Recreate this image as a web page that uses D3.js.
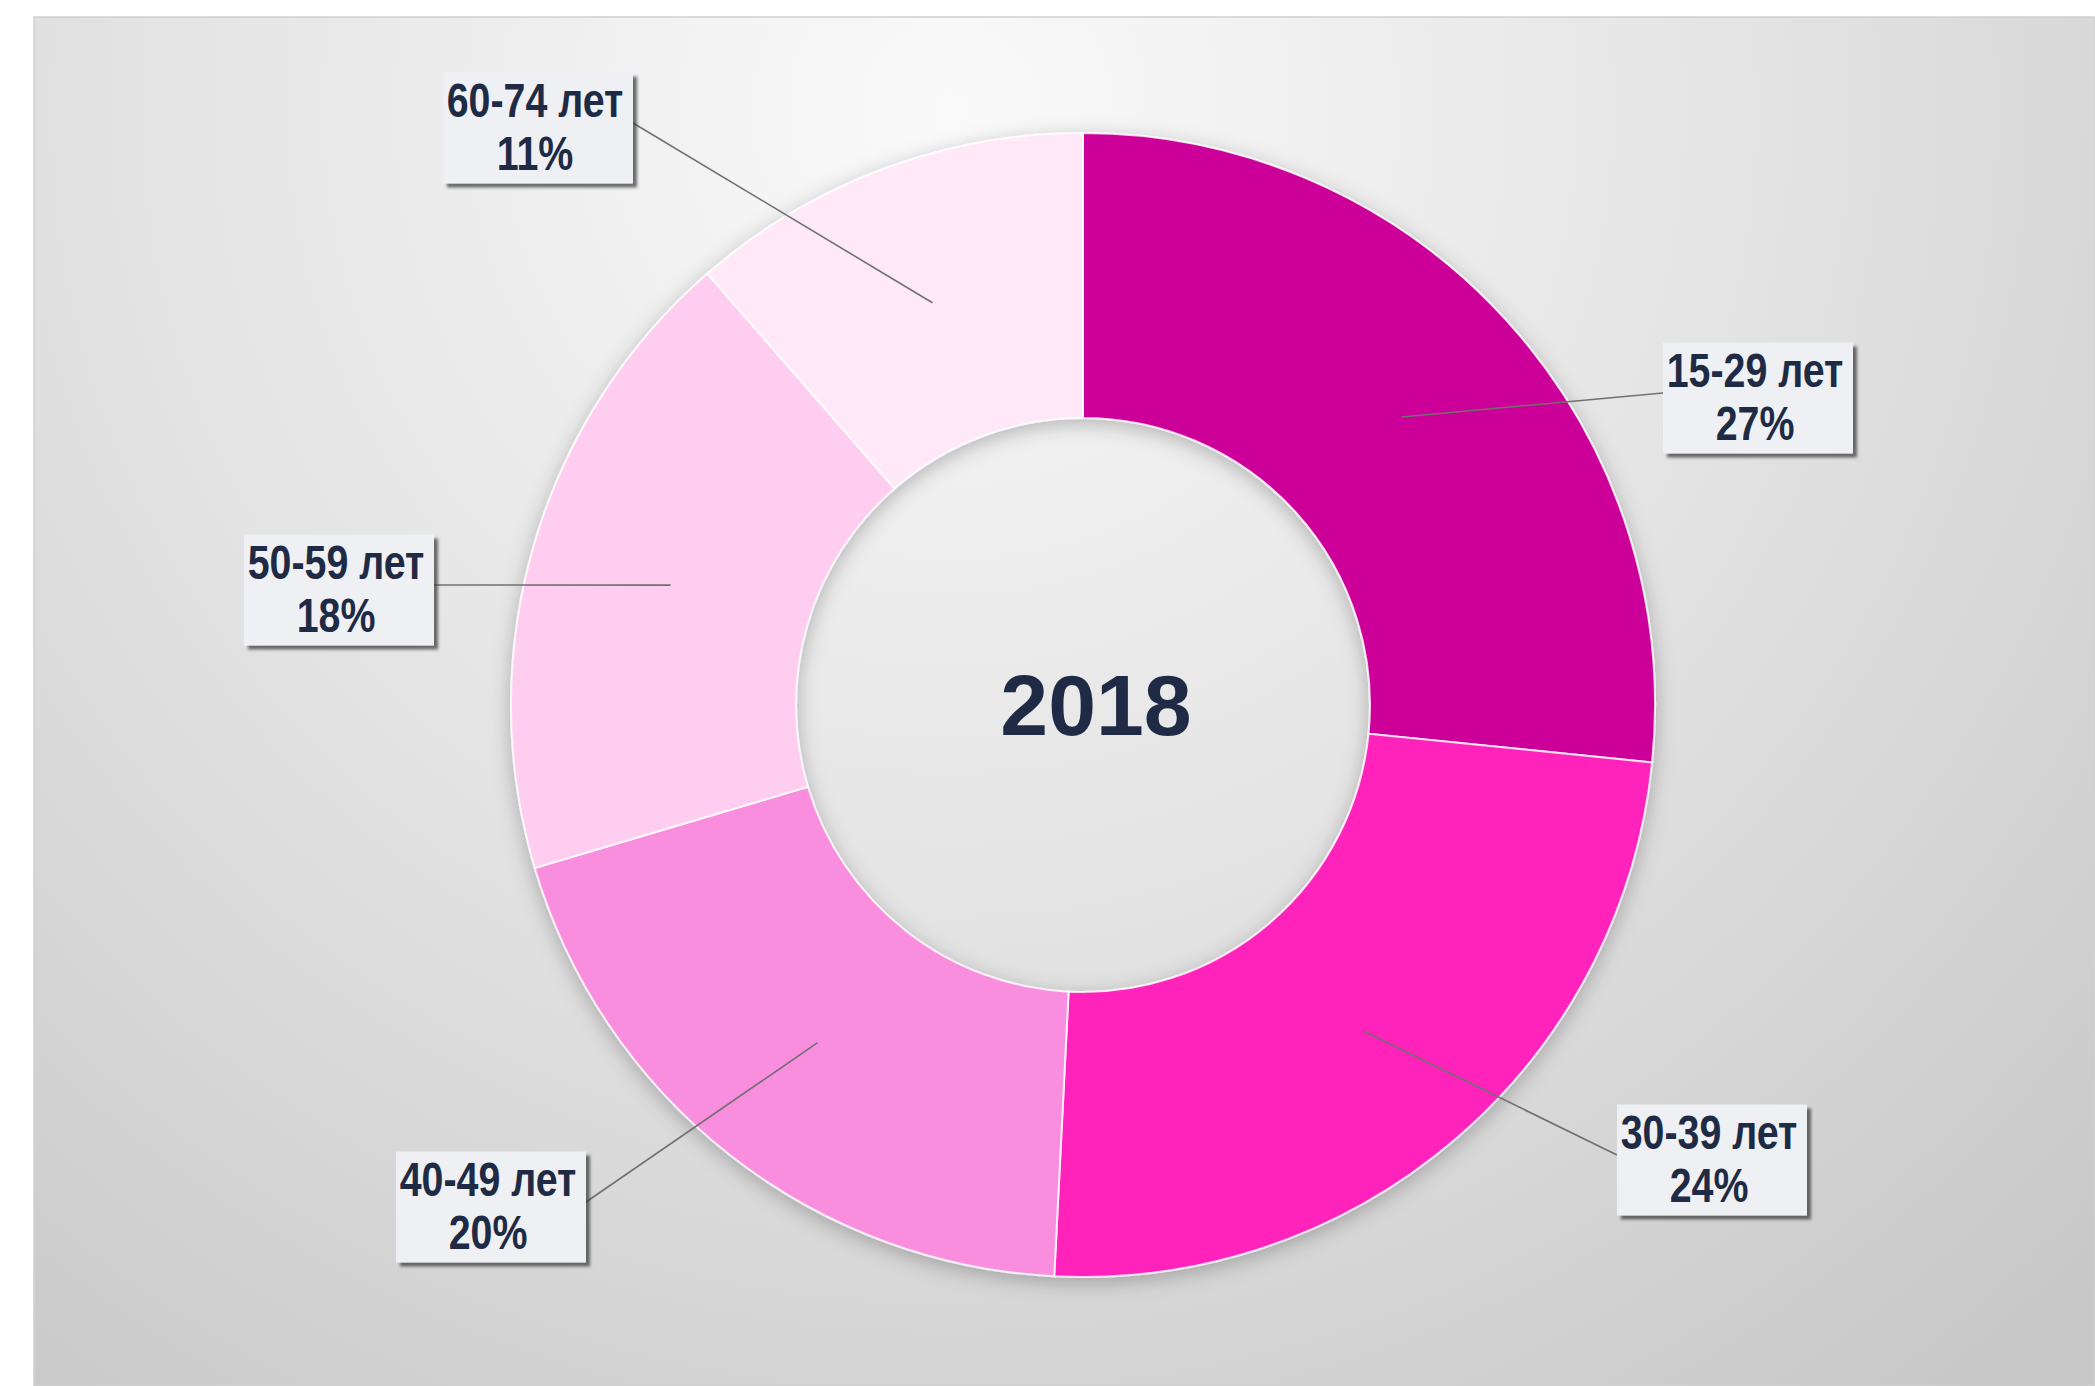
<!DOCTYPE html>
<html>
<head>
<meta charset="utf-8">
<script src="https://cdn.jsdelivr.net/npm/d3@7"></script>
<style>
  body { margin: 0; background: #fff; }
  svg { display: block; }
</style>
</head>
<body>
<div id="chart"></div>
<script>
// data (shares, labels show rounded values)
var ages = ["15-29 лет", "30-39 лет", "40-49 лет", "50-59 лет", "60-74 лет"];
var shares = [26.6, 24.2, 19.6, 18.2, 11.4];
var sliceColors = ["#cc0099", "#ff22bb", "#fa8ede", "#fecdf0", "#ffe8f8"];
var yearLabel = "2018";

// callout box centres (layout only)
var boxCenters = [[1758, 398], [1712, 1160], [491, 1207], [339, 590], [538, 128]];

var width = 2095, height = 1386;
var cx = 1083, cy = 705;
var outerR = 572, innerR = 287;
var boxW = 190, boxH = 111;

var svg = d3.select("#chart").append("svg")
  .attr("width", width)
  .attr("height", height);

var defs = svg.append("defs");

// grey radial background
var bg = defs.append("radialGradient")
  .attr("id", "bgGrad")
  .attr("gradientUnits", "userSpaceOnUse")
  .attr("cx", 950).attr("cy", 110).attr("r", 1650);
bg.append("stop").attr("offset", "0").attr("stop-color", "#fafafa");
bg.append("stop").attr("offset", "0.5").attr("stop-color", "#e3e3e3");
bg.append("stop").attr("offset", "1").attr("stop-color", "#c7c7c7");

var ringShadow = defs.append("filter").attr("id", "ringShadow")
  .attr("x", "-20%").attr("y", "-20%").attr("width", "140%").attr("height", "140%");
ringShadow.append("feDropShadow")
  .attr("dx", 0).attr("dy", 5).attr("stdDeviation", 10)
  .attr("flood-color", "#000").attr("flood-opacity", 0.25);

var boxShadow = defs.append("filter").attr("id", "boxShadow")
  .attr("x", "-20%").attr("y", "-20%").attr("width", "140%").attr("height", "140%");
boxShadow.append("feDropShadow")
  .attr("dx", 4).attr("dy", 4).attr("stdDeviation", 1.6)
  .attr("flood-color", "#333").attr("flood-opacity", 0.7);

svg.append("rect")
  .attr("x", 34).attr("y", 17)
  .attr("width", width - 34).attr("height", height - 17)
  .attr("fill", "url(#bgGrad)")
  .attr("stroke", "#d0d0d0")
  .attr("stroke-width", 1.5);

// donut
var pie = d3.pie().sort(null).value(function (d) { return d; });
var arcs = pie(shares);

var arc = d3.arc().innerRadius(innerR).outerRadius(outerR);

var ring = svg.append("g")
  .attr("transform", "translate(" + cx + "," + cy + ")")
  .attr("filter", "url(#ringShadow)");

ring.selectAll("path")
  .data(arcs)
  .enter().append("path")
  .attr("d", arc)
  .attr("fill", function (d, i) { return sliceColors[i]; })
  .attr("stroke", "#fff")
  .attr("stroke-width", 2)
  .attr("stroke-opacity", 0.8);

// leader lines: from box edge to slice centroid
var leaders = svg.append("g");
leaders.selectAll("line")
  .data(arcs)
  .enter().append("line")
  .attr("x1", function (d, i) {
    var b = boxCenters[i];
    return b[0] < cx ? b[0] + boxW / 2 : b[0] - boxW / 2;
  })
  .attr("y1", function (d, i) { return boxCenters[i][1] - 5; })
  .attr("x2", function (d) { return cx + arc.centroid(d)[0]; })
  .attr("y2", function (d) { return cy + arc.centroid(d)[1]; })
  .attr("stroke", "#707070")
  .attr("stroke-width", 1.6);

// callout boxes
var callouts = svg.append("g").selectAll("g")
  .data(arcs)
  .enter().append("g")
  .attr("transform", function (d, i) {
    return "translate(" + boxCenters[i][0] + "," + boxCenters[i][1] + ")";
  });

callouts.append("rect")
  .attr("x", -boxW / 2).attr("y", -boxH / 2)
  .attr("width", boxW).attr("height", boxH)
  .attr("fill", "#eff0f3")
  .attr("filter", "url(#boxShadow)");

var txt = callouts.append("g")
  .attr("transform", "translate(-3,0) scale(0.82,1)")
  .style("font-family", "'Liberation Sans', Arial, sans-serif")
  .style("font-weight", "bold")
  .style("font-size", "48px")
  .attr("fill", "#1f2b45")
  .attr("text-anchor", "middle");

txt.append("text")
  .attr("y", -11)
  .text(function (d, i) { return ages[i]; });

txt.append("text")
  .attr("y", 42)
  .text(function (d) { return Math.round(d.data) + "%"; });

// centre label
svg.append("text")
  .attr("x", 1096)
  .attr("y", 735)
  .attr("text-anchor", "middle")
  .style("font-family", "'Liberation Sans', Arial, sans-serif")
  .style("font-weight", "bold")
  .style("font-size", "86px")
  .attr("fill", "#1f2b45")
  .text(yearLabel);
</script>
</body>
</html>
